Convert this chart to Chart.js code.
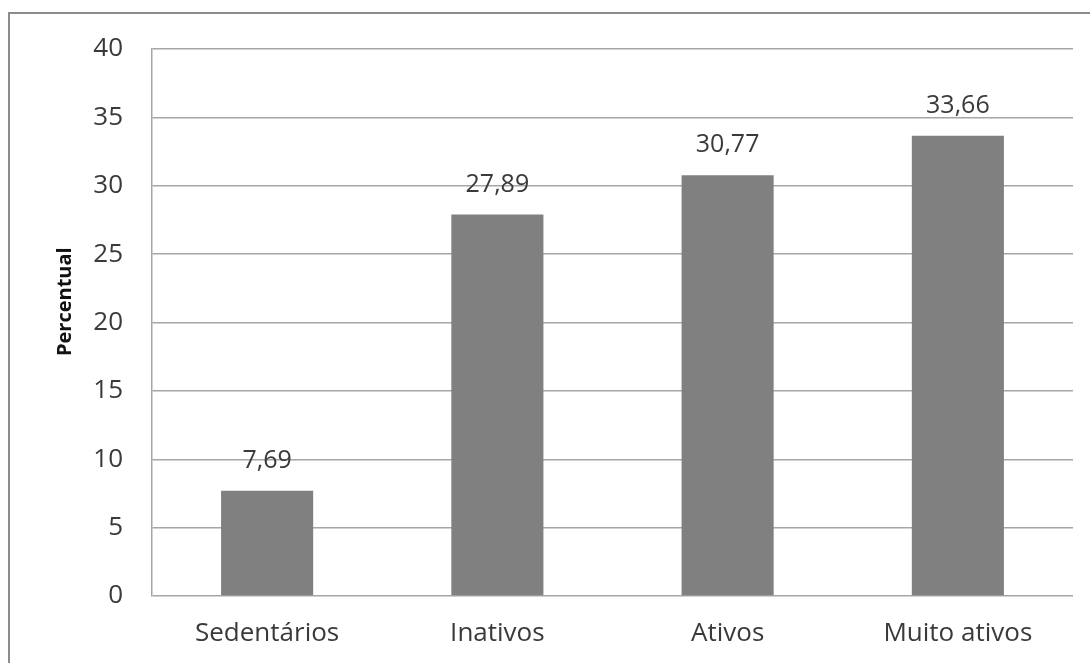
<html>
<head>
<meta charset="utf-8">
<style>
  html, body { margin: 0; padding: 0; background: #fff; overflow: hidden; }
  #wrap { position: relative; width: 1090px; height: 663px; }
  #frame { position: absolute; left: 8px; top: 12px; width: 1100px; height: 700px; border: 2px solid #8c8c8c; box-sizing: border-box; }
  canvas { position: absolute; left: 0; top: 0; }
</style>
</head>
<body>
<div id="wrap">
  <div id="frame"></div>
  <canvas id="chart" width="1090" height="663"></canvas>
</div>
<script src="https://cdn.jsdelivr.net/npm/chart.js"></script>
<script>
  // categorias e valores
  const categories = ['Sedentários', 'Inativos', 'Ativos', 'Muito ativos'];
  const values = [7.69, 27.89, 30.77, 33.66];
  const yTicks = [0, 5, 10, 15, 20, 25, 30, 35, 40];

  const textColor = '#3a3a3a';
  const fontFamily = '"Open Sans", sans-serif';

  // rótulos de valor acima das barras
  const barLabels = {
    id: 'barLabels',
    afterDatasetsDraw(chart) {
      const ctx = chart.ctx;
      const meta = chart.getDatasetMeta(0);
      ctx.save();
      ctx.font = '25px ' + fontFamily;
      ctx.fillStyle = textColor;
      ctx.textAlign = 'center';
      ctx.textBaseline = 'alphabetic';
      meta.data.forEach((bar, i) => {
        ctx.fillText(values[i].toFixed(2).replace('.', ','), bar.x, bar.y - 23);
      });
      ctx.restore();
    }
  };

  new Chart(document.getElementById('chart').getContext('2d'), {
    type: 'bar',
    data: {
      labels: categories,
      datasets: [{
        data: values,
        backgroundColor: '#808080',
        borderWidth: 0,
        barPercentage: 0.4,
        categoryPercentage: 1
      }]
    },
    options: {
      responsive: false,
      animation: false,
      layout: { padding: { left: 53, top: 49, right: 17, bottom: 0 } },
      plugins: {
        legend: { display: false },
        tooltip: { enabled: false }
      },
      scales: {
        x: {
          grid: { display: false, drawTicks: false },
          border: { display: false },
          ticks: { color: textColor, font: { family: fontFamily, size: 26 }, padding: 22 },
          afterFit: (s) => { s.height = 67; }
        },
        y: {
          min: 0,
          max: 40,
          afterBuildTicks: (s) => { s.ticks = yTicks.map(v => ({ value: v })); },
          grid: { color: '#a6a6a6', lineWidth: 1.5, drawTicks: false },
          border: { display: true, color: '#a6a6a6', width: 1.5 },
          ticks: { color: textColor, font: { family: fontFamily, size: 26 }, padding: 29 },
          title: {
            display: true,
            // espaços à esquerda para subir o título como no original
            text: '        Percentual',
            color: '#111',
            font: { family: fontFamily, size: 20, weight: 'bold' },
            padding: 0
          },
          afterFit: (s) => { s.width = 99; }
        }
      }
    },
    plugins: [barLabels]
  });
</script>
</body>
</html>
